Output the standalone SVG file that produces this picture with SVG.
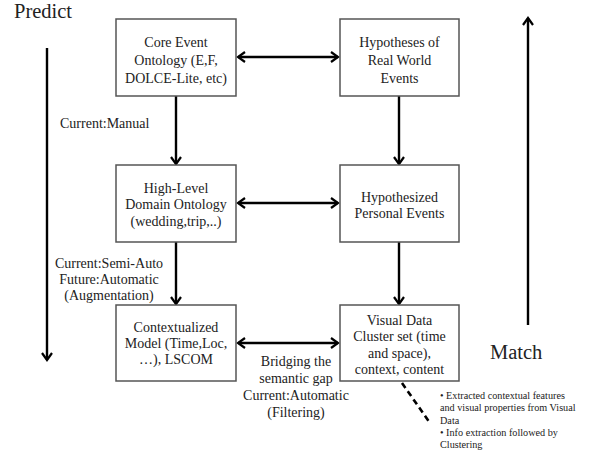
<svg xmlns="http://www.w3.org/2000/svg" width="589" height="453" viewBox="0 0 589 453">
<defs>
<style>
.box{fill:#fff;stroke:#555;stroke-width:1.5}
.t{font-family:"Liberation Serif","Times New Roman",serif;font-size:14px;fill:#222;text-anchor:middle}
.l{font-family:"Liberation Serif","Times New Roman",serif;font-size:14px;fill:#222}
.big{font-family:"Liberation Serif","Times New Roman",serif;font-size:20.5px;fill:#222}
.s{font-family:"Liberation Serif","Times New Roman",serif;font-size:10.2px;fill:#222}
.c{stroke:#000;stroke-width:2.4;fill:none}
</style>
<marker id="ah" markerUnits="userSpaceOnUse" markerWidth="14" markerHeight="14" viewBox="-9 -7 12 14" refX="0" refY="0" orient="auto-start-reverse">
<path d="M-7,-5 L0,0 L-7,5" fill="none" stroke="#000" stroke-width="2.2"/>
</marker>
</defs>
<rect width="589" height="453" fill="#fff"/>
<g id="connectors">
<line class="c" x1="238" y1="57" x2="338" y2="57" marker-start="url(#ah)" marker-end="url(#ah)"/>
<line class="c" x1="238" y1="203" x2="338" y2="203" marker-start="url(#ah)" marker-end="url(#ah)"/>
<line class="c" x1="238" y1="343" x2="338" y2="343" marker-start="url(#ah)" marker-end="url(#ah)"/>
<line class="c" x1="176" y1="96" x2="176" y2="164" marker-end="url(#ah)"/>
<line class="c" x1="176" y1="242" x2="176" y2="304" marker-end="url(#ah)"/>
<line class="c" x1="399" y1="96" x2="399" y2="164" marker-end="url(#ah)"/>
<line class="c" x1="399" y1="242" x2="399" y2="304" marker-end="url(#ah)"/>
<line class="c" x1="47" y1="48" x2="47" y2="360" marker-end="url(#ah)"/>
<line class="c" x1="528" y1="325" x2="528" y2="18" marker-end="url(#ah)"/>
<line x1="402" y1="383" x2="430" y2="423" stroke="#000" stroke-width="2.6" stroke-dasharray="6,4"/>
</g>
<g id="n1"><rect class="box" x="116" y="19" width="120" height="77"/>
<text class="t" x="176" y="47">Core Event</text><text class="t" x="176" y="65">Ontology (E,F,</text><text class="t" x="176" y="83">DOLCE-Lite, etc)</text></g>
<g id="n2"><rect class="box" x="340" y="19" width="119" height="77"/>
<text class="t" x="399.5" y="47">Hypotheses of</text><text class="t" x="399.5" y="65">Real World</text><text class="t" x="399.5" y="83">Events</text></g>
<g id="n3"><rect class="box" x="116" y="165" width="120" height="77"/>
<text class="t" x="176" y="193">High-Level</text><text class="t" x="176" y="209">Domain Ontology</text><text class="t" x="176" y="226">(wedding,trip,..)</text></g>
<g id="n4"><rect class="box" x="340" y="165" width="119" height="77"/>
<text class="t" x="399.5" y="202">Hypothesized</text><text class="t" x="399.5" y="218">Personal Events</text></g>
<g id="n5"><rect class="box" x="116" y="305" width="120" height="76"/>
<text class="t" x="176" y="332">Contextualized</text><text class="t" x="176" y="348">Model (Time,Loc,</text><text class="t" x="176" y="364">…), LSCOM</text></g>
<g id="n6"><rect class="box" x="340" y="305" width="119" height="76"/>
<text class="t" x="399.5" y="325">Visual Data</text><text class="t" x="399.5" y="341">Cluster set (time</text><text class="t" x="399.5" y="358">and space),</text><text class="t" x="399.5" y="374">context, content</text></g>
<g id="labels">
<text class="big" x="14" y="18">Predict</text>
<text class="big" x="490" y="359">Match</text>
<text class="l" x="60" y="128">Current:Manual</text>
<text class="t" x="109" y="268">Current:Semi-Auto</text>
<text class="t" x="109" y="284">Future:Automatic</text>
<text class="t" x="109" y="300">(Augmentation)</text>
<text class="t" x="296" y="366">Bridging the</text>
<text class="t" x="296" y="383">semantic gap</text>
<text class="t" x="296" y="400">Current:Automatic</text>
<text class="t" x="296" y="417">(Filtering)</text>
<text class="s" x="440" y="399">•  Extracted contextual features</text>
<text class="s" x="440" y="411">and visual properties from Visual</text>
<text class="s" x="440" y="424">Data</text>
<text class="s" x="440" y="436">• Info extraction followed by</text>
<text class="s" x="440" y="448">Clustering</text>
</g>
</svg>
